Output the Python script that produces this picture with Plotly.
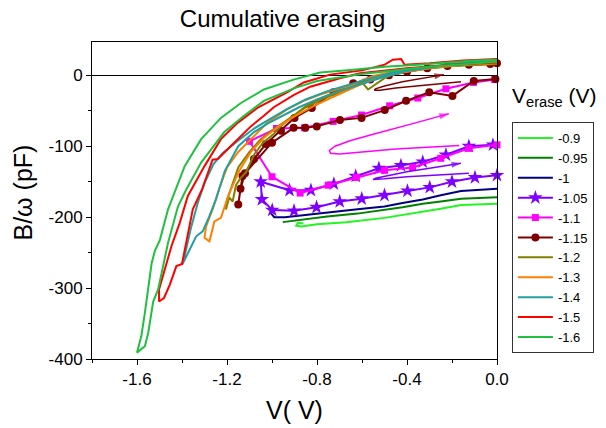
import plotly.graph_objects as go

FONT = "Liberation Sans, Arial, sans-serif"

# Erase voltages (legend entries) and their colours
erase_labels = ["-0.9", "-0.95", "-1", "-1.05", "-1.1", "-1.15", "-1.2", "-1.3", "-1.4", "-1.5", "-1.6"]
erase_colors = ["#22F522", "#008000", "#000080", "#8000FF", "#FF00FF", "#800000",
                "#808000", "#FF8000", "#22A0A0", "#FF0000", "#20C040"]

# Sweep voltage V (V) and B/omega (pF) for each cumulative erase step
v_0p9 = [0, -0.08, -0.16, -0.25, -0.33, -0.42, -0.5, -0.67, -0.8, -0.87, -0.892, -0.885, -0.86]
b_0p9 = [-181, -182, -183, -188, -192, -197, -201, -207, -210, -213, -212, -208, -209]

v_0p95 = [0, -0.08, -0.16, -0.25, -0.33, -0.42, -0.5, -0.62, -0.755, -0.85, -0.92, -0.952]
b_0p95 = [-172, -173, -174, -178, -181, -186, -190, -195, -199, -203, -206, -207]

v_1p0 = [0, -0.08, -0.16, -0.25, -0.33, -0.42, -0.5, -0.62, -0.755, -0.85, -0.943, -0.99, -1.006]
b_1p0 = [-160, -161, -163, -169, -175, -180, -185, -189, -194, -197, -200, -200, -194]

v_1p05 = [0, -0.098, -0.2, -0.299, -0.398, -0.5, -0.601, -0.699, -0.802, -0.902, -0.999,
          -1.045, -1.05, -0.922, -0.827, -0.725, -0.628, -0.525, -0.427, -0.33, -0.227, -0.125, -0.018]
b_1p05 = [-141, -144, -150, -158, -163, -169, -174, -178, -186, -191, -190,
          -175, -150, -162, -162, -153, -142, -131, -127, -122, -112, -100, -98]

v_1p1 = [0, -0.125, -0.25, -0.375, -0.5, -0.625, -0.75, -0.875, -1.0, -1.10,
         -0.98, -0.855, -0.728, -0.602, -0.477, -0.352, -0.227, -0.105, -0.01]
b_1p1 = [-98, -103, -117, -130, -134, -144, -155, -166, -143, -93,
         -75, -74, -65, -56, -43, -32, -19, -10, -6]

v_1p15 = [0, -0.03, -0.125, -0.22, -0.31, -0.40, -0.48, -0.563, -0.639, -0.727, -0.823, -0.9,
          -0.96, -1.028, -1.08, -1.12, -1.14, -1.15, -1.131, -1.0, -0.904, -0.852, -0.801,
          -0.698, -0.602, -0.499, -0.404, -0.301, -0.198, -0.103, -0.007]
b_1p15 = [17, 16, 15, 13, 10, 5, 0, -6, -11, -24, -46, -60,
          -78, -97, -118, -138, -160, -182, -142, -95, -74, -74, -72,
          -63, -60, -49, -36, -24, -29, -8, -5]

v_1p2 = [0, -0.2, -0.35, -0.45, -0.5, -0.543, -0.573, -0.6, -0.639, -0.68, -0.75, -0.83, -0.889,
         -0.962, -0.99, -1.04, -1.08, -1.116, -1.14, -1.16, -1.175, -1.19, -1.205,
         -1.2, -1.185, -1.15, -1.1, -1.05, -1.0, -0.93, -0.86, -0.78, -0.7, -0.63, -0.56,
         -0.48, -0.35, -0.2, 0]
b_1p2 = [17, 14, 9, 3, -4, -13, -20, -10, -15, -20, -28, -39, -53,
         -72, -82, -95, -112, -137, -145, -155, -178, -172, -189,
         -175, -162, -130, -108, -90, -78, -62, -47, -34, -24, -14, -6,
         2, 8, 13, 16]

v_1p3 = [0, -0.15, -0.3, -0.45, -0.55, -0.595, -0.639, -0.713, -0.786, -0.859, -0.933, -1.021,
         -1.08, -1.15, -1.20, -1.235, -1.264, -1.293, -1.30, -1.278, -1.256, -1.227, -1.205,
         -1.183, -1.146, -1.094, -1.036, -0.97, -0.9, -0.82, -0.74, -0.66, -0.6, -0.52,
         -0.42, -0.3, -0.15, 0]
b_1p3 = [18, 16, 12, 6, -1, -6, -13, -20, -27, -36, -48, -67,
         -86, -108, -130, -160, -189, -213, -229, -234, -206, -201, -180,
         -161, -135, -108, -88, -72, -58, -44, -32, -20, -12, -3,
         4, 10, 15, 17]

v_1p4 = [0, -0.15, -0.3, -0.45, -0.55, -0.65, -0.75, -0.85, -0.93, -1.0, -1.08, -1.15,
         -1.22, -1.26, -1.30, -1.33, -1.36, -1.385, -1.40, -1.388, -1.337, -1.308, -1.28,
         -1.249, -1.21, -1.15, -1.08, -1.02, -0.95, -0.88, -0.8, -0.7, -0.6, -0.5, -0.4,
         -0.25, -0.1, 0]
b_1p4 = [21, 18, 12, 5, -3, -12, -22, -34, -47, -60, -75, -92,
         -110, -125, -152, -180, -215, -250, -267, -260, -227, -220, -200,
         -175, -135, -100, -80, -68, -57, -45, -34, -22, -12, -2, 6,
         13, 17, 19]

v_1p5 = [0, -0.2, -0.4, -0.5, -0.609, -0.698, -0.83, -0.904, -0.992, -1.036, -1.094, -1.168,
         -1.241, -1.264, -1.31, -1.352, -1.40, -1.425, -1.454, -1.48, -1.502, -1.502, -1.476,
         -1.447, -1.41, -1.381, -1.374, -1.300, -1.227, -1.153, -1.065, -1.006, -0.933,
         -0.859, -0.742, -0.6, -0.499, -0.463, -0.426, -0.411, -0.3, -0.15, 0]
b_1p5 = [18, 15, 10, 7, 3, -4, -16, -28, -45, -57, -72, -95,
         -118, -119, -160, -189, -266, -269, -295, -314, -319, -302, -274,
         -241, -208, -175, -170, -128, -90, -67, -46, -36, -24,
         -10, 1, 7, 15, 22, 23, 15, 17, 21, 23]

v_1p6 = [0, -0.1, -0.2, -0.3, -0.4, -0.5, -0.6, -0.7, -0.8, -0.9, -0.97, -1.036, -1.124,
         -1.212, -1.315, -1.381, -1.418, -1.462, -1.506, -1.528, -1.55, -1.565, -1.6,
         -1.59, -1.581, -1.565, -1.55, -1.535, -1.521, -1.498, -1.462, -1.432, -1.388,
         -1.315, -1.227, -1.138, -1.036, -0.904, -0.786, -0.639, -0.5, -0.35, -0.2, -0.1, 0]
b_1p6 = [19, 17, 15, 12, 9, 6, 2, -3, -8, -18, -27, -36, -57,
         -80, -123, -161, -185, -236, -302, -319, -363, -382, -391,
         -380, -368, -335, -302, -265, -248, -232, -189, -165, -128,
         -90, -60, -39, -20, -6, 4, 8, 12, 15, 19, 21, 22]

# Sweep-direction arrows (-1.05, -1.1 and -1.15 steps)
arrow_v_1p05 = [-0.125, -0.25, -0.4, -0.5, -0.551, -0.54, -0.48, -0.4, -0.3, -0.16]
arrow_b_1p05 = [-138, -140, -143, -146, -147, -145, -141, -136, -131, -124]
arrow_v_1p1 = [-0.168, -0.3, -0.45, -0.6, -0.7, -0.74, -0.745, -0.72, -0.65, -0.55, -0.45, -0.35, -0.214]
arrow_b_1p1 = [-99, -101, -104, -108, -111, -110, -106, -100, -92, -83, -75, -66, -54]
arrow_v_1p15 = [-0.16, -0.3, -0.45, -0.52, -0.545, -0.54, -0.5, -0.42, -0.33, -0.236]
arrow_b_1p15 = [-9, -13, -18, -21, -21, -19, -15, -9, -4, 1]

x_tick_vals = [-1.6, -1.2, -0.8, -0.4, 0.0]
x_tick_text = ["-1.6", "-1.2", "-0.8", "-0.4", "0.0"]
y_tick_vals = [-400, -300, -200, -100, 0]
y_tick_text = ["-400", "-300", "-200", "-100", "0"]

series_v = [v_0p9, v_0p95, v_1p0, v_1p05, v_1p1, v_1p15, v_1p2, v_1p3, v_1p4, v_1p5, v_1p6]
series_b = [b_0p9, b_0p95, b_1p0, b_1p05, b_1p1, b_1p15, b_1p2, b_1p3, b_1p4, b_1p5, b_1p6]
marker_symbols = {"-1.05": ("star", 11), "-1.1": ("square", 7), "-1.15": ("circle", 8)}

fig = go.Figure()

for label, color, vs, bs in zip(erase_labels, erase_colors, series_v, series_b):
    if label in marker_symbols:
        sym, size = marker_symbols[label]
        fig.add_trace(go.Scatter(
            x=vs, y=bs, name=label, mode="lines+markers",
            line=dict(color=color, width=2),
            marker=dict(symbol=sym, size=size, color=color, line=dict(width=0)),
            cliponaxis=False,
        ))
    else:
        fig.add_trace(go.Scatter(
            x=vs, y=bs, name=label, mode="lines",
            line=dict(color=color, width=2),
        ))

arrows = [
    (arrow_v_1p05, arrow_b_1p05, "#8000FF"),
    (arrow_v_1p1, arrow_b_1p1, "#FF00FF"),
    (arrow_v_1p15, arrow_b_1p15, "#800000"),
]
for av, ab, color in arrows:
    fig.add_trace(go.Scatter(x=av, y=ab, mode="lines", showlegend=False,
                             line=dict(color=color, width=1.5), hoverinfo="skip"))
    # arrowhead on the final segment, oriented along the sweep
    fig.add_trace(go.Scatter(
        x=av[-2:], y=ab[-2:], mode="markers", showlegend=False, hoverinfo="skip",
        marker=dict(symbol=["circle", "arrow"], size=[0, 10], color=color,
                    angleref="previous", line=dict(width=0)),
    ))

# Frame geometry (pixels)
L, R, T, B = 92, 106, 42, 69
W, H = 606, 428
pw, ph = W - L - R, H - T - B

fig.update_layout(
    width=W, height=H,
    margin=dict(l=L, r=R, t=T, b=B),
    paper_bgcolor="white", plot_bgcolor="white",
    font=dict(family=FONT, color="black", size=16),
    title=dict(text="Cumulative erasing", x=(284 - L) / pw, xref="paper", xanchor="center",
               y=1 - 19 / H, yref="container", yanchor="middle",
               font=dict(size=24, color="black")),
    showlegend=True,
    legend=dict(x=(515 - L) / pw, xanchor="left", y=(H - B - 122) / ph, yanchor="top",
                bordercolor="#333333", borderwidth=1, bgcolor="white",
                font=dict(size=13, color="black"), itemwidth=35, tracegroupgap=0),
)

fig.update_xaxes(
    range=[-1.8, 0.0], showgrid=False, zeroline=False,
    showline=True, linecolor="black", linewidth=1, mirror=True,
    tickmode="array", tickvals=x_tick_vals, ticktext=x_tick_text,
    ticks="outside", ticklen=5, tickcolor="black", tickwidth=1,
    tickfont=dict(size=17),
    minor=dict(tickmode="linear", tick0=0, dtick=0.2, ticks="outside", ticklen=3,
               tickcolor="black", showgrid=False),
)
fig.update_yaxes(
    range=[-400, 47], showgrid=False,
    zeroline=True, zerolinecolor="black", zerolinewidth=1,
    showline=True, linecolor="black", linewidth=1, mirror=True,
    tickmode="array", tickvals=y_tick_vals, ticktext=y_tick_text,
    ticks="outside", ticklen=5, tickcolor="black", tickwidth=1,
    tickfont=dict(size=17),
    minor=dict(tickmode="linear", tick0=0, dtick=50, ticks="outside", ticklen=3,
               tickcolor="black", showgrid=False),
)

# Axis titles and the legend heading
fig.add_annotation(text="B/\u03c9 (pF)", xref="paper", yref="paper",
                   x=(22 - L) / pw, y=(H - B - 193) / ph, textangle=-90,
                   xanchor="center", yanchor="middle", showarrow=False,
                   font=dict(size=25, color="black"))
fig.add_annotation(text="V( V)", xref="paper", yref="paper",
                   x=0.5, y=-(410 - (H - B)) / ph,
                   xanchor="center", yanchor="middle", showarrow=False,
                   font=dict(size=25, color="black"))
fig.add_annotation(text="V<sub>erase</sub> (V)", xref="paper", yref="paper",
                   x=(513 - L) / pw, y=(H - B - 97) / ph,
                   xanchor="left", yanchor="middle", showarrow=False,
                   font=dict(size=21, color="black"))

fig.write_html("out.html")
